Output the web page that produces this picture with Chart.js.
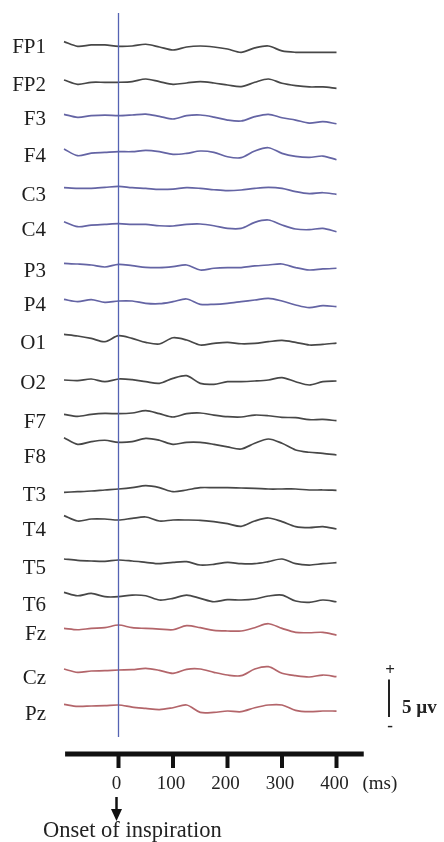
<!DOCTYPE html>
<html>
<head>
<meta charset="utf-8">
<script src="https://cdn.jsdelivr.net/npm/chart.js@4/dist/chart.umd.min.js"></script>
<style>
  html, body { margin: 0; padding: 0; background: #fff; overflow: hidden; }
  canvas { display: block; }
</style>
</head>
<body>
<canvas id="erp" width="444" height="842"></canvas>
<script>
// ---- data: grand-average ERP per electrode (µV), sampled every 25 ms ----
const times = [-100, -75, -50, -25, 0, 25, 50, 75, 100, 125, 150, 175, 200, 225, 250, 275, 300, 325, 350, 375, 400];

const channels = ['FP1', 'FP2', 'F3', 'F4', 'C3', 'C4', 'P3', 'P4', 'O1', 'O2',
                  'F7', 'F8', 'T3', 'T4', 'T5', 'T6', 'Fz', 'Cz', 'Pz'];

const FP1 = [0.62, 0.00, 0.18, 0.18, 0.00, 0.04, 0.27, -0.09, -0.49, -0.09, 0.04, -0.09, -0.36, -0.80, -0.22, 0.04, -0.62, -0.80, -0.80, -0.80, -0.80];
const FP2 = [0.31, -0.27, 0.00, 0.00, 0.00, 0.09, 0.44, 0.09, -0.27, -0.09, 0.09, -0.09, -0.36, -0.58, 0.00, 0.44, -0.13, -0.44, -0.62, -0.62, -0.80];
const F3  = [0.18, -0.22, 0.00, 0.09, 0.00, 0.09, 0.22, -0.09, -0.44, 0.00, 0.09, -0.18, -0.58, -0.71, -0.13, 0.18, -0.27, -0.58, -0.98, -0.80, -1.07];
const F4  = [0.36, -0.53, -0.18, -0.09, 0.00, 0.00, 0.18, 0.00, -0.36, -0.22, 0.09, -0.09, -0.67, -0.80, 0.09, 0.53, -0.22, -0.62, -0.76, -0.58, -1.07];
const C3  = [0.00, -0.09, -0.09, 0.04, 0.18, 0.00, -0.09, -0.22, -0.18, 0.00, -0.09, -0.27, -0.40, -0.31, -0.09, 0.04, -0.09, -0.53, -0.80, -0.67, -0.89];
const C4  = [0.27, -0.40, -0.18, -0.09, 0.00, -0.09, -0.09, -0.27, -0.31, -0.09, -0.04, -0.27, -0.62, -0.62, 0.18, 0.49, -0.18, -0.71, -0.80, -0.62, -1.07];
const P3  = [0.13, 0.04, -0.09, -0.36, 0.00, -0.18, -0.40, -0.44, -0.31, -0.09, -0.76, -0.53, -0.44, -0.44, -0.22, -0.09, 0.04, -0.44, -0.76, -0.62, -0.53];
const P4  = [0.22, -0.09, 0.18, -0.18, 0.00, 0.00, -0.31, -0.36, -0.09, 0.27, -0.44, -0.44, -0.31, -0.09, 0.13, 0.36, 0.00, -0.53, -0.89, -0.62, -0.76];
const O1  = [0.18, -0.04, -0.36, -0.80, 0.00, -0.36, -0.89, -1.11, -0.27, -0.58, -1.24, -1.02, -0.89, -1.07, -1.02, -0.80, -0.62, -0.89, -1.24, -1.16, -0.98];
const O2  = [-0.13, -0.22, 0.00, -0.36, 0.00, -0.09, -0.36, -0.58, 0.09, 0.44, -0.58, -0.71, -0.36, -0.36, -0.27, -0.13, 0.18, -0.36, -0.80, -0.36, -0.27];
const F7  = [-0.09, -0.36, -0.09, 0.04, 0.00, 0.09, 0.40, 0.00, -0.44, 0.00, 0.09, -0.18, -0.40, -0.44, -0.18, -0.27, -0.49, -0.53, -0.80, -0.76, -0.93];
const F8  = [0.62, -0.27, 0.09, 0.27, 0.00, 0.09, 0.53, 0.27, -0.27, 0.00, 0.00, -0.27, -0.62, -0.89, -0.13, 0.44, -0.13, -1.02, -1.33, -1.47, -1.69];
const T3  = [-0.44, -0.36, -0.27, -0.13, 0.00, 0.18, 0.44, 0.18, -0.36, -0.13, 0.18, 0.18, 0.18, 0.13, 0.09, 0.00, 0.00, 0.00, -0.13, -0.13, -0.18];
const T4  = [0.58, -0.13, 0.13, 0.13, 0.00, 0.22, 0.40, -0.13, 0.00, 0.00, -0.04, -0.22, -0.49, -0.84, -0.13, 0.27, -0.22, -0.89, -1.02, -0.89, -1.20];
const T5  = [0.13, -0.04, -0.13, -0.18, 0.00, -0.13, -0.31, -0.49, -0.31, -0.22, -0.67, -0.58, -0.31, -0.49, -0.49, -0.22, 0.13, -0.49, -0.67, -0.49, -0.36];
const T6  = [0.58, 0.13, 0.44, 0.00, 0.00, 0.22, 0.13, -0.44, -0.22, 0.22, -0.22, -0.67, -0.40, -0.44, -0.31, 0.09, 0.22, -0.58, -0.76, -0.44, -0.67];
const Fz  = [-0.09, -0.27, -0.09, 0.00, 0.36, 0.00, -0.09, -0.18, -0.27, 0.27, 0.00, -0.36, -0.44, -0.44, 0.00, 0.53, -0.09, -0.62, -0.67, -0.62, -0.98];
const Cz  = [0.13, -0.31, -0.13, -0.09, 0.00, 0.04, 0.22, -0.04, -0.44, 0.09, 0.13, -0.31, -0.67, -0.76, 0.13, 0.44, -0.44, -0.76, -0.93, -0.67, -0.89];
const Pz  = [0.18, -0.09, -0.04, 0.00, 0.09, -0.18, -0.36, -0.53, -0.27, 0.09, -0.89, -0.89, -0.71, -0.80, -0.27, 0.09, 0.09, -0.62, -0.80, -0.71, -0.71];

const series = [FP1, FP2, F3, F4, C3, C4, P3, P4, O1, O2, F7, F8, T3, T4, T5, T6, Fz, Cz, Pz];

const timeTicks = [0, 100, 200, 300, 400];
const timeUnit = '(ms)';
const scaleBarUV = 5;
const scaleBarText = '5 µv';
const onsetText = 'Onset of inspiration';

// ---- layout ----
const W = 444, H = 842;
const ONSET_PX = 118.5;     // horizontal position of t = 0
const PX_PER_MS = 0.545;
const PX_PER_UV = 7.5;
// baseline of each trace row and centre of its label (px from top)
const ROW_PX   = [46.3, 82.3, 115.7, 151.7, 187.7, 223.7, 264.3, 301, 335.7, 379,
                  413.7, 442.3, 489, 520, 560, 596.7, 627.7, 670, 705.7];
const LABEL_PX = [47, 85, 119, 156, 195, 230, 271, 305, 343, 383,
                  422, 457, 495, 530, 568, 605, 634, 678, 714];

const DARK = '#474747', BLUE = '#6464a4', RED = '#b3656a';
const darkRows = ['FP1', 'FP2', 'O1', 'O2', 'F7', 'F8', 'T3', 'T4', 'T5', 'T6'];
function colorFor(name) {
  if (['Fz', 'Cz', 'Pz'].includes(name)) return RED;
  if (darkRows.includes(name)) return DARK;
  return BLUE;
}

const xMin = -ONSET_PX / PX_PER_MS;
const xMax = (W - ONSET_PX) / PX_PER_MS;
const yMax = 0, yMin = -H / PX_PER_UV;

const datasets = channels.map((name, i) => {
  const offset = -ROW_PX[i] / PX_PER_UV;
  return {
    label: name,
    data: times.map((t, k) => ({ x: t, y: offset + series[i][k] })),
    borderColor: colorFor(name),
    borderWidth: 1.7,
    pointRadius: 0,
    tension: 0.3,
    fill: false
  };
});

const SERIF = '"Liberation Serif", "Times New Roman", serif';

const decorations = {
  id: 'decorations',
  afterDatasetsDraw(chart) {
    const { ctx, scales: { x, y } } = chart;
    const px = v => x.getPixelForValue(v);

    ctx.save();
    // onset marker
    ctx.strokeStyle = '#5563b3';
    ctx.lineWidth = 1.3;
    ctx.beginPath();
    ctx.moveTo(px(0), 13);
    ctx.lineTo(px(0), 737);
    ctx.stroke();

    // electrode labels
    ctx.fillStyle = '#1e1e1e';
    ctx.font = '21px ' + SERIF;
    ctx.textAlign = 'right';
    ctx.textBaseline = 'middle';
    channels.forEach((name, i) => ctx.fillText(name, 46, LABEL_PX[i]));

    // time axis
    const axisY = 754;
    ctx.strokeStyle = '#111';
    ctx.lineWidth = 5;
    ctx.lineCap = 'butt';
    ctx.beginPath();
    ctx.moveTo(px(-98), axisY);
    ctx.lineTo(px(450), axisY);
    ctx.stroke();
    ctx.lineWidth = 4;
    timeTicks.forEach(t => {
      ctx.beginPath();
      ctx.moveTo(px(t), axisY);
      ctx.lineTo(px(t), axisY + 14);
      ctx.stroke();
    });
    ctx.font = '19px ' + SERIF;
    ctx.textAlign = 'center';
    ctx.fillStyle = '#222';
    timeTicks.forEach(t => ctx.fillText(String(t), px(t) - 2, 784));
    ctx.textAlign = 'left';
    ctx.fillText(timeUnit, px(400) + 26, 784);

    // onset arrow
    const ax = px(0) - 2;
    ctx.strokeStyle = '#111';
    ctx.fillStyle = '#111';
    ctx.lineWidth = 2.5;
    ctx.beginPath();
    ctx.moveTo(ax, 797);
    ctx.lineTo(ax, 810);
    ctx.stroke();
    ctx.beginPath();
    ctx.moveTo(ax - 5.5, 809);
    ctx.lineTo(ax + 5.5, 809);
    ctx.lineTo(ax, 821);
    ctx.closePath();
    ctx.fill();
    ctx.font = '22.5px ' + SERIF;
    ctx.textAlign = 'left';
    ctx.textBaseline = 'alphabetic';
    ctx.fillStyle = '#222';
    ctx.fillText(onsetText, 43, 837);

    // amplitude scale bar
    const barBottomUV = -717 / PX_PER_UV;
    const yb = y.getPixelForValue(barBottomUV);
    const yt = y.getPixelForValue(barBottomUV + scaleBarUV);
    const bx = 389;
    ctx.strokeStyle = '#222';
    ctx.lineWidth = 2;
    ctx.beginPath();
    ctx.moveTo(bx, yt);
    ctx.lineTo(bx, yb);
    ctx.stroke();
    ctx.font = 'bold 17px ' + SERIF;
    ctx.textAlign = 'center';
    ctx.textBaseline = 'middle';
    ctx.fillText('+', bx + 1, yt - 9);
    ctx.fillText('-', bx + 1, yb + 10);
    ctx.font = 'bold 19px ' + SERIF;
    ctx.textAlign = 'left';
    ctx.fillText(scaleBarText, 402, (yt + yb) / 2 + 10);
    ctx.restore();
  }
};

new Chart(document.getElementById('erp'), {
  type: 'line',
  data: { datasets },
  options: {
    responsive: false,
    animation: false,
    devicePixelRatio: 1,
    layout: { padding: 0 },
    plugins: { legend: { display: false }, tooltip: { enabled: false } },
    scales: {
      x: { type: 'linear', display: false, min: xMin, max: xMax },
      y: { type: 'linear', display: false, min: yMin, max: yMax }
    }
  },
  plugins: [decorations]
});
</script>
</body>
</html>
